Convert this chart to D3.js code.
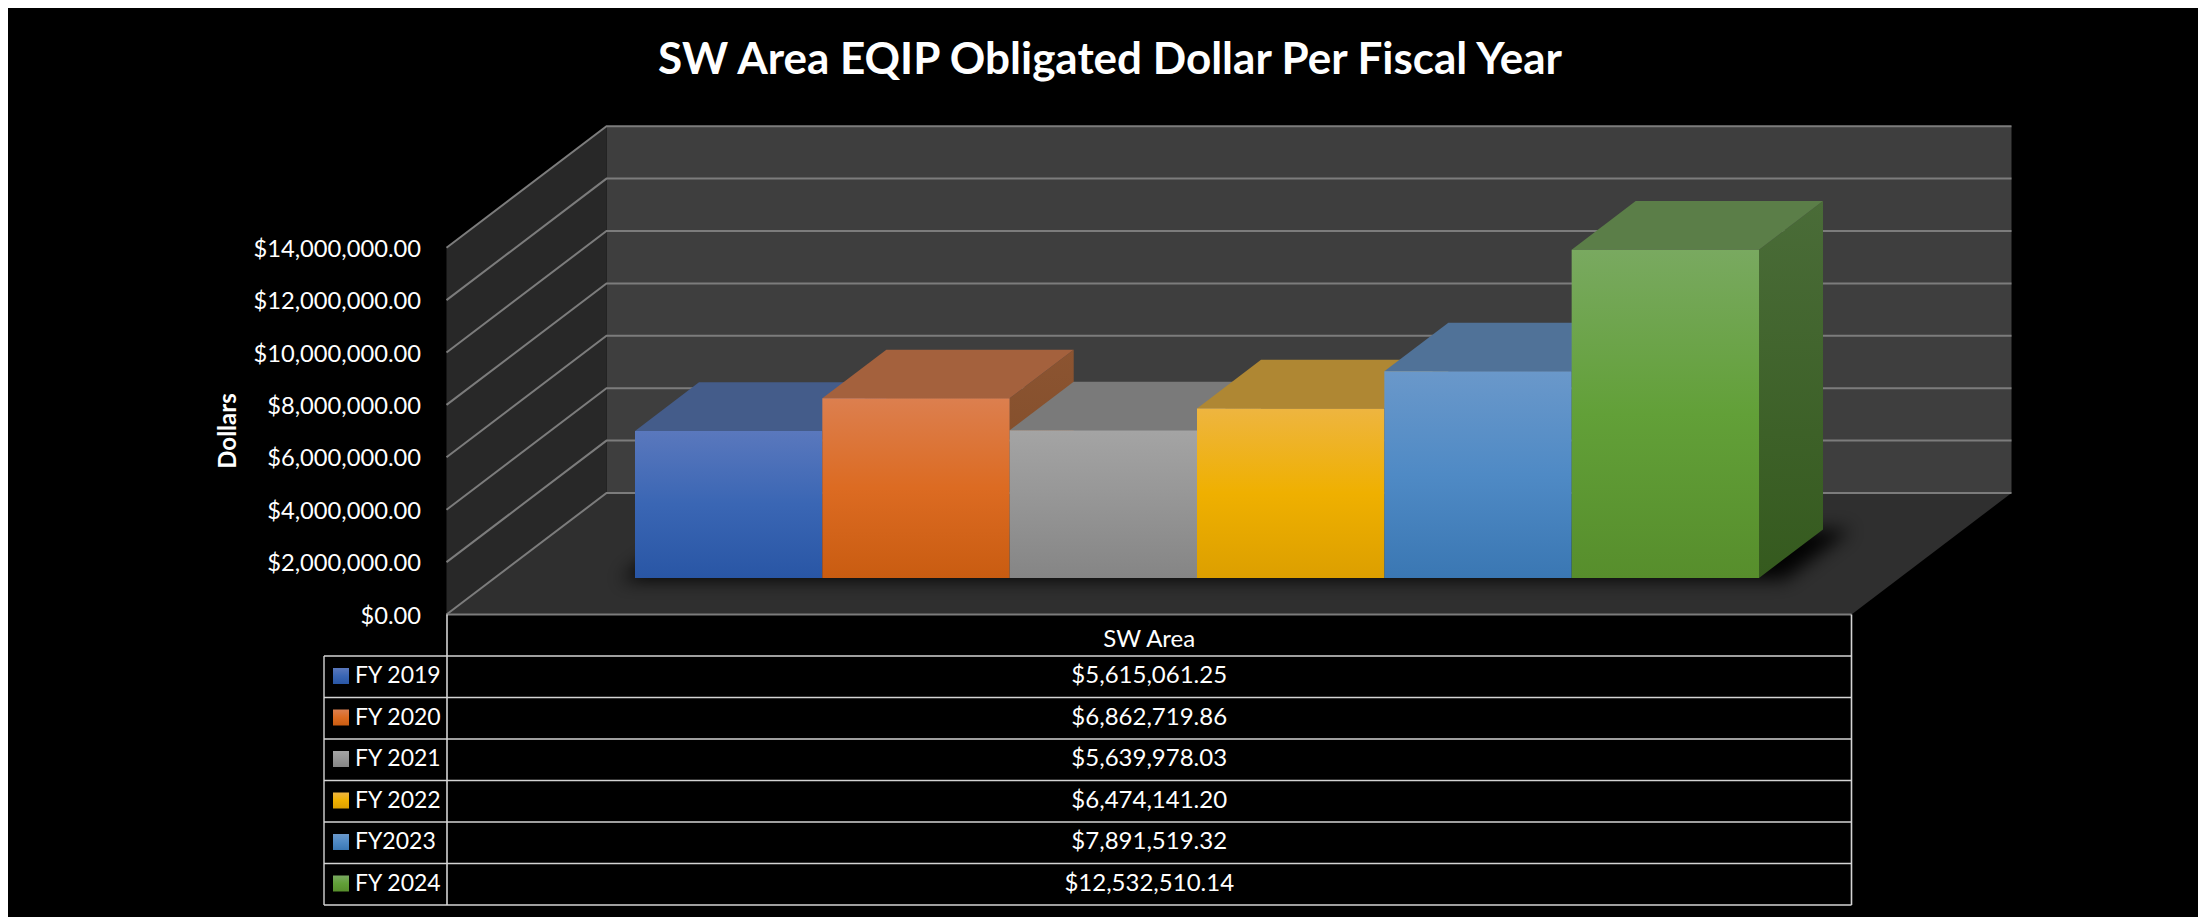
<!DOCTYPE html>
<html>
<head>
<meta charset="utf-8">
<script src="https://cdn.jsdelivr.net/npm/d3@7/dist/d3.min.js"></script>
<style>
html,body{margin:0;padding:0;background:#fff;overflow:hidden}
svg{display:block}
text{font-family:Lato,"Open Sans",sans-serif;fill:#fff}
</style>
</head>
<body>
<script>
const titleText = "SW Area EQIP Obligated Dollar Per Fiscal Year";
const yAxisTitle = "Dollars";
const columnLabel = "SW Area";
const categories = ["FY 2019","FY 2020","FY 2021","FY 2022","FY2023","FY 2024"];
const values = [5615061.25,6862719.86,5639978.03,6474141.20,7891519.32,12532510.14];
const yTicks = [0,2000000,4000000,6000000,8000000,10000000,12000000,14000000];
const frontTop = ["#5a78bd","#dc7f4f","#a4a4a4","#eeb540","#6a98ca","#79a960"];
const frontMid = ["#3a66b4","#dc6b22","#959595","#efb000","#4f8ac5","#62a038"];
const frontBottom = ["#2956a5","#c95c11","#858585","#dc9f00","#3a77b3","#578e2c"];
const topFace = ["#445c8a","#a4613d","#7a7a7a","#af8733","#507298","#5b7e48"];
const sideTop = ["#33486f","#8c5431","#626262","#8c6c28","#3f5c7c","#4a6c38"];
const sideBottom = ["#1f3a6d","#7a4a26","#4e4e4e","#7a5c10","#2a5078","#355a1e"];

const W = 2198, H = 917;
const svg = d3.select("body").append("svg").attr("width",W).attr("height",H);
const defs = svg.append("defs");

svg.append("rect").attr("width",W).attr("height",H).attr("fill","#fff");
svg.append("rect").attr("x",8).attr("y",8).attr("width",W-8).attr("height",H-8).attr("fill","#000");

// Oblique 3D frame: x along the front edge, y up, z into the chart
const frontLeft = 446.5, frontRight = 1851.5;
const x = d3.scaleBand().domain(categories).range([frontLeft,frontRight]).paddingInner(0).paddingOuter(0.75);
const y = d3.scaleLinear().domain([0,14000000]).range([614.5,247.7]);
const zx = d3.scaleLinear().domain([0,1]).range([0,160]);
const zy = d3.scaleLinear().domain([0,1]).range([0,-121.5]);
const P = (px,v,z) => [px + zx(z), y(v) + zy(z)];
const poly = pts => pts.map(p => p.join(",")).join(" ");
const yMax = yTicks[yTicks.length-1];
const barFront = 0.3, barBack = 0.7;

// walls and floor
svg.append("polygon").attr("fill","#3e3e3e")
  .attr("points",poly([P(frontLeft,0,1),P(frontRight,0,1),P(frontRight,yMax,1),P(frontLeft,yMax,1)]));
svg.append("polygon").attr("fill","#282828")
  .attr("points",poly([P(frontLeft,0,0),P(frontLeft,0,1),P(frontLeft,yMax,1),P(frontLeft,yMax,0)]));
svg.append("polygon").attr("fill","#2f2f2f")
  .attr("points",poly([P(frontLeft,0,0),P(frontRight,0,0),P(frontRight,0,1),P(frontLeft,0,1)]));

// grid lines
const grid = svg.append("g").attr("fill","none").attr("stroke","#7c7c7c").attr("stroke-width",2);
grid.selectAll("polyline").data(yTicks).join("polyline")
  .attr("points",d => poly([P(frontLeft,d,0),P(frontLeft,d,1),P(frontRight,d,1)]));
grid.append("line").attr("x1",frontLeft).attr("x2",frontRight).attr("y1",y(0)).attr("y2",y(0));

// soft shadow under the bars
const blur = defs.append("filter").attr("id","soft").attr("x","-10%").attr("y","-60%").attr("width","120%").attr("height","220%");
blur.append("feGaussianBlur").attr("stdDeviation",9);
const barsLeft = x(categories[0]), barsRight = x(categories[categories.length-1]) + x.bandwidth();
svg.append("polygon").attr("fill","#000").attr("opacity",0.95).attr("filter","url(#soft)")
  .attr("points",poly([P(barsLeft-12,0,barFront-0.015),P(barsRight+28,0,barFront-0.015),P(barsRight+28,0,barBack),P(barsLeft-12,0,barBack)]));

// gradients
categories.forEach((c,i) => {
  const g = defs.append("linearGradient").attr("id","front"+i).attr("x1",0).attr("y1",0).attr("x2",0).attr("y2",1);
  g.append("stop").attr("offset","0%").attr("stop-color",frontTop[i]);
  g.append("stop").attr("offset","50%").attr("stop-color",frontMid[i]);
  g.append("stop").attr("offset","100%").attr("stop-color",frontBottom[i]);
  const s = defs.append("linearGradient").attr("id","side"+i).attr("x1",0).attr("y1",0).attr("x2",0).attr("y2",1);
  s.append("stop").attr("offset","0%").attr("stop-color",sideTop[i]);
  s.append("stop").attr("offset","100%").attr("stop-color",sideBottom[i]);
});

// bars, left to right so later bars overlap earlier ones
const rows = categories.map((c,i) => ({c,i,v:values[i]}));
const bars = svg.append("g").selectAll("g").data(rows).join("g");
bars.append("polygon").attr("fill",d => `url(#side${d.i})`)
  .attr("points",d => { const r = x(d.c)+x.bandwidth();
    return poly([P(r,0,barFront),P(r,0,barBack),P(r,d.v,barBack),P(r,d.v,barFront)]); });
bars.append("polygon").attr("fill",d => topFace[d.i])
  .attr("points",d => { const l = x(d.c), r = l+x.bandwidth();
    return poly([P(l,d.v,barFront),P(r,d.v,barFront),P(r,d.v,barBack),P(l,d.v,barBack)]); });
bars.append("polygon").attr("fill",d => `url(#front${d.i})`)
  .attr("points",d => { const l = x(d.c), r = l+x.bandwidth();
    return poly([P(l,0,barFront),P(r,0,barFront),P(r,d.v,barFront),P(l,d.v,barFront)]); });

// value axis
const money = d3.format("$,.2f");
const axis = svg.append("g").attr("transform","translate(421,1)")
  .call(d3.axisLeft(y).tickValues(yTicks).tickFormat(money).tickSize(0).tickPadding(0));
axis.select(".domain").remove();
axis.selectAll("text").style("font-family","Lato").style("font-size","23.7px").attr("fill","#fff");

svg.append("text").attr("transform","translate(236,431) rotate(-90)")
  .attr("text-anchor","middle").attr("font-size",24).attr("font-weight",700).text(yAxisTitle);

svg.append("text").attr("x",1110).attr("y",74).attr("text-anchor","middle")
  .attr("font-size",44).attr("font-weight",700).text(titleText);

// data table
const tableLeft = 324, colX = 447, tableRight = 1851.5, headerBottom = 656, tableBottom = 905;
const rowY = d3.scaleBand().domain(categories).range([headerBottom,tableBottom]);
const tbl = svg.append("g");
const lineColor = "#d4d4d4";
tbl.append("line").attr("x1",colX).attr("x2",colX).attr("y1",y(0)).attr("y2",tableBottom)
  .attr("stroke",lineColor).attr("stroke-width",1.6);
tbl.append("line").attr("x1",tableRight).attr("x2",tableRight).attr("y1",y(0)).attr("y2",tableBottom)
  .attr("stroke",lineColor).attr("stroke-width",1.6);
tbl.append("line").attr("x1",tableLeft).attr("x2",tableLeft).attr("y1",headerBottom).attr("y2",tableBottom)
  .attr("stroke",lineColor).attr("stroke-width",1.4);
tbl.selectAll("line.h").data([headerBottom,...categories.map(c => rowY(c)+rowY.bandwidth())]).join("line")
  .attr("class","h").attr("x1",tableLeft).attr("x2",tableRight).attr("y1",d => d).attr("y2",d => d)
  .attr("stroke",lineColor).attr("stroke-width",1.4);

const midX = (colX+tableRight)/2;
tbl.append("text").attr("x",midX).attr("y",647).attr("text-anchor","middle").attr("font-size",24).text(columnLabel);
const tr = tbl.selectAll("g.row").data(rows).join("g").attr("class","row")
  .attr("transform",d => `translate(0,${rowY(d.c)})`);
tr.append("rect").attr("x",333).attr("y",12).attr("width",16).attr("height",16).attr("fill",d => `url(#front${d.i})`);
tr.append("text").attr("x",355).attr("y",27).attr("font-size",23).text(d => d.c);
tr.append("text").attr("x",midX).attr("y",27).attr("text-anchor","middle").attr("font-size",24).text(d => money(d.v));
</script>
</body>
</html>
